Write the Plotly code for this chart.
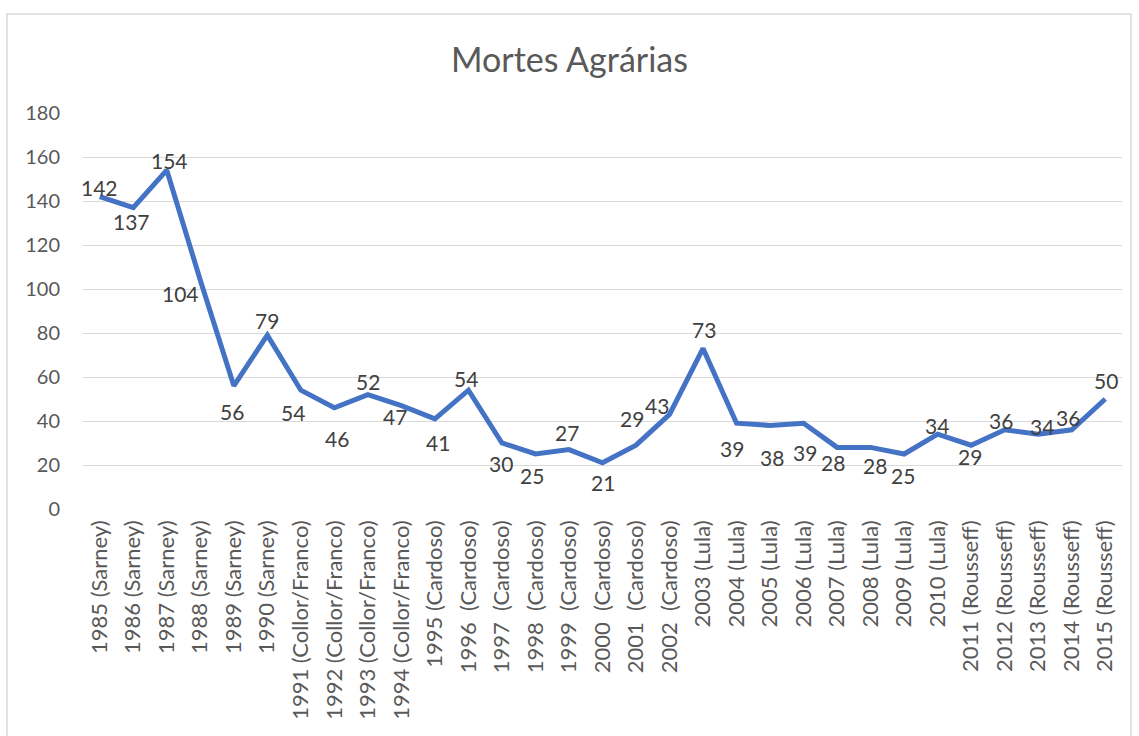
import plotly.graph_objects as go

categories = [
    "1985 (Sarney)", "1986 (Sarney)", "1987 (Sarney)", "1988 (Sarney)", "1989 (Sarney)", "1990 (Sarney)",
    "1991 (Collor/Franco)", "1992 (Collor/Franco)", "1993 (Collor/Franco)", "1994 (Collor/Franco)",
    "1995 (Cardoso)", "1996 \u00a0(Cardoso)", "1997 \u00a0(Cardoso)", "1998 \u00a0(Cardoso)",
    "1999 \u00a0(Cardoso)", "2000 \u00a0(Cardoso)", "2001 \u00a0(Cardoso)", "2002 \u00a0(Cardoso)",
    "2003 (Lula)", "2004 (Lula)", "2005 (Lula)", "2006 (Lula)", "2007 (Lula)", "2008 (Lula)",
    "2009 (Lula)", "2010 (Lula)",
    "2011 (Rousseff)", "2012 (Rousseff)", "2013 (Rousseff)", "2014 (Rousseff)", "2015 (Rousseff)",
]
deaths = [142, 137, 154, 104, 56, 79, 54, 46, 52, 47, 41, 54, 30, 25, 27, 21, 29, 43, 73,
          39, 38, 39, 28, 28, 25, 34, 29, 36, 34, 36, 50]

# data-label offsets in pixels (style only): +dy means label drawn above the point
label_dx = [0, -2, 3, -20, -2, 0, -8, 3, 0, -6, 3, -2, -1, -3, -2, 0, -4, -13, 1,
            -5, 2, 1, -4, 4, -1, -1, -1, -4, 4, -4, 1]
label_dy = [9, -14, 10, -13, -26, 15, -22, -31, 13, -11, -24, 12, -20, -21, 17, -20, 27, 9, 19,
            -25, -32, -29, -15, -18, -21, 9, -11, 9, 8, 12, 19]

FONT = "Lato, 'Open Sans', sans-serif"

fig = go.Figure()
fig.add_trace(go.Scatter(
    x=categories, y=deaths, mode="lines",
    line=dict(color="#4472C4", width=5),
    hoverinfo="x+y",
))
for c, v, dx, dy in zip(categories, deaths, label_dx, label_dy):
    fig.add_annotation(x=c, y=v, xref="x", yref="y", text=str(v), showarrow=False,
                       xanchor="center", yanchor="middle", xshift=dx, yshift=dy,
                       font=dict(family=FONT, size=21, color="#404040"))

L, R, T, B = 83, 17, 113, 227
W, H = 1139, 736
pw = W - L - R
ph = H - T - B
fig.add_shape(type="rect", xref="paper", yref="paper",
              x0=(7 - L) / pw, x1=(1131 - L) / pw,
              y0=(H - B - 740) / ph, y1=(H - B - 14) / ph,
              line=dict(color="#D9D9D9", width=1.5), fillcolor="rgba(0,0,0,0)", layer="below")

fig.update_layout(
    width=W, height=H,
    margin=dict(l=L, r=R, t=T, b=B),
    paper_bgcolor="white", plot_bgcolor="white",
    showlegend=False,
    title=dict(text="Mortes Agrárias", x=0.5, xanchor="center", y=1 - 60 / H, yanchor="middle",
               font=dict(family=FONT, size=34, color="#595959")),
    font=dict(family=FONT, color="#595959"),
    xaxis=dict(type="category", tickangle=-90, tickfont=dict(size=22, color="#595959"),
               showgrid=False, showline=False, zeroline=False, ticks="",
               ticklabelstandoff=6,
               range=[-0.5, len(categories) - 0.5]),
    yaxis=dict(range=[0, 180], dtick=20, tickfont=dict(size=20, color="#595959"),
               showgrid=True, gridcolor="#D9D9D9", gridwidth=1.3, zeroline=False,
               showline=False, ticks="", ticklabelstandoff=22),
)

fig.write_html("out.html", config={"displayModeBar": False},
               post_script="document.body.style.margin='0';document.body.style.overflow='hidden';")
